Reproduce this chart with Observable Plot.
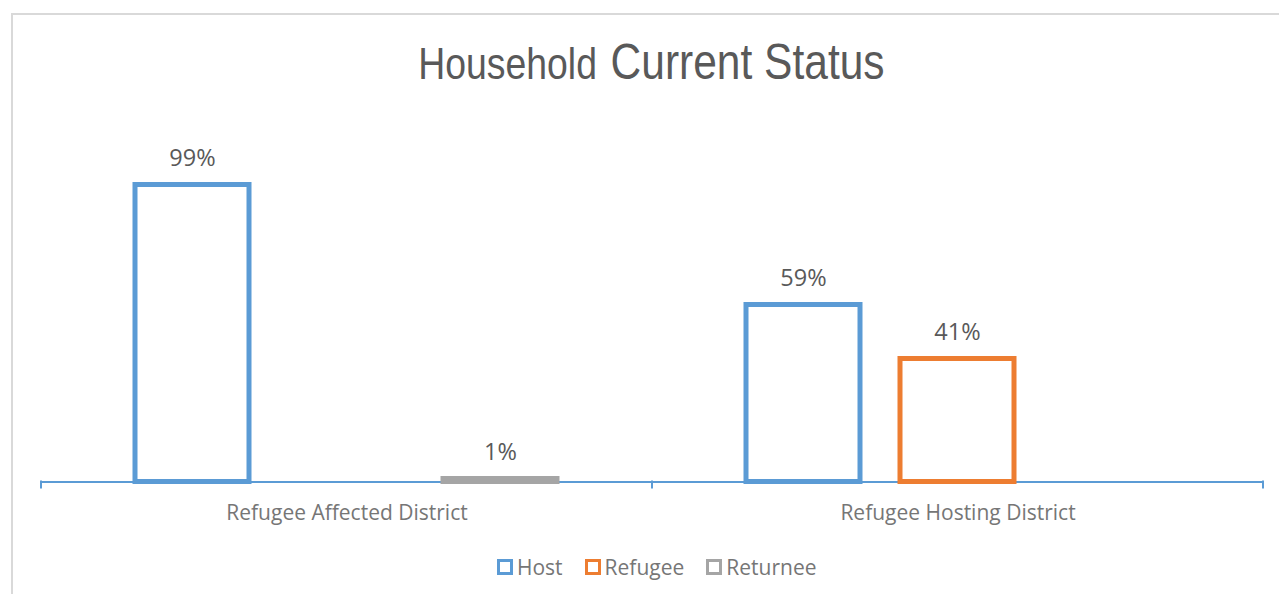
<!DOCTYPE html>
<html><head><meta charset="utf-8">
<script src="https://cdn.jsdelivr.net/npm/d3@7"></script>
<script src="https://cdn.jsdelivr.net/npm/@observablehq/plot@0.6"></script>
<style>
body{margin:0;background:#fff;}
#wrap{position:relative;width:1279px;height:594px;overflow:hidden;font-family:"Open Sans",sans-serif;background:#fff;}
#border{position:absolute;left:11px;top:13px;width:1290px;height:600px;border-top:2px solid #d9d9d9;border-left:2px solid #d9d9d9;}
#title{position:absolute;left:12px;width:1279px;top:37px;text-align:center;color:#595959;font-family:"Liberation Sans Narrow","Arial Narrow","Liberation Sans",sans-serif;white-space:nowrap;line-height:50px;}
#title .inner{display:inline-block;transform:scaleX(0.85);transform-origin:center;}
#title .a{font-size:44px;margin-right:16px;}
#title .b{font-size:50px;}
#chart{position:absolute;left:0;top:0;}
#legend{position:absolute;top:553px;left:497px;display:flex;align-items:center;font-size:21px;color:#767676;white-space:nowrap;}
#legend .item{display:flex;align-items:center;margin-right:22px;}
#legend .sw{display:inline-block;width:10px;height:10px;border:3px solid;margin-right:4px;background:#fff;}
</style></head>
<body>
<div id="wrap">
  <div id="border"></div>
  <div id="title"><span class="inner"><span class="a">Household</span><span class="b">Current Status</span></span></div>
  <div id="chart"></div>
  <div id="legend"></div>
</div>
<script>
const districts = ["Refugee Affected District", "Refugee Hosting District"];
const statuses = ["Host", "Refugee", "Returnee"];
const hostValues = [99, 59];
const refugeeValues = [0, 41];
const returneeValues = [1, 0];
const statusColors = ["#5b9bd5", "#ed7d31", "#a5a5a5"];

const seriesValues = [hostValues, refugeeValues, returneeValues];
const data = [];
districts.forEach((d, i) => {
  statuses.forEach((s, j) => {
    const v = seriesValues[j][i];
    if (v > 0) data.push({district: d, status: s, value: v});
  });
});

const plot = Plot.plot({
  width: 1279,
  height: 540,
  marginLeft: 41,
  marginRight: 16,
  marginTop: 181.5,
  marginBottom: 58.5,
  style: {background: "transparent", overflow: "visible", fontFamily: "Open Sans, sans-serif"},
  fx: {domain: districts, padding: 0},
  x: {domain: statuses, paddingInner: 0.257, paddingOuter: 0.61, axis: null},
  y: {domain: [0, 100], axis: null},
  color: {domain: statuses, range: statusColors},
  marks: [
    Plot.ruleY([0], {stroke: "#5b9bd5", strokeWidth: 2}),
    Plot.barY(data, {fx: "district", x: "status", y: "value", fill: "white", stroke: "status", strokeWidth: 5, insetLeft: 0, insetRight: 0}),
    Plot.text(data, {fx: "district", x: "status", y: "value", text: d => d.value + "%", lineAnchor: "bottom", dy: -19, fontSize: 23.5, fill: "#595959"}),
    Plot.axisFx({anchor: "bottom", tickSize: 0, tickPadding: 23, fontSize: 21, color: "#767676", label: null})
  ]
});
document.getElementById("chart").appendChild(plot);

// boundary ticks between category groups, from the fx scale
const fx = plot.scale("fx");
const ys = plot.scale("y");
const y0 = ys.apply(0);
const r0 = fx.range[0], r1 = fx.range[1];
const step = (r1 - r0) / districts.length;
const edges = d3.range(districts.length + 1).map(i => r0 + i * step);
d3.select(plot).append("g").selectAll("line").data(edges).join("line")
  .attr("x1", d => d).attr("x2", d => d)
  .attr("y1", y0 - 1).attr("y2", y0 + 7)
  .attr("stroke", "#5b9bd5").attr("stroke-width", 2);

// legend
const legend = d3.select("#legend");
statuses.forEach((s, i) => {
  const it = legend.append("div").attr("class", "item");
  it.append("span").attr("class", "sw").style("border-color", statusColors[i]);
  it.append("span").text(s);
});
</script>
</body></html>
